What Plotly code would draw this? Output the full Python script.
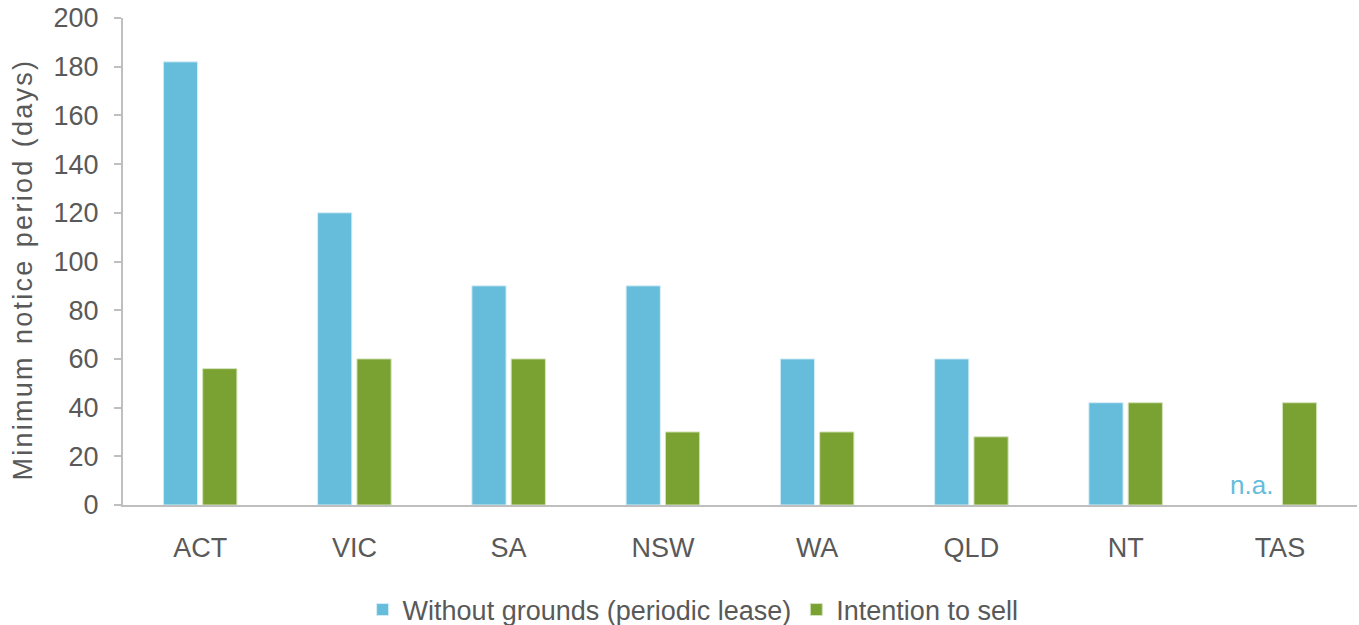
import plotly.graph_objects as go

# Minimum notice periods by state/territory (days)
states = ["ACT", "VIC", "SA", "NSW", "WA", "QLD", "NT", "TAS"]
without_grounds = [182, 120, 90, 90, 60, 60, 42, None]
intention_to_sell = [56, 60, 60, 30, 30, 28, 42, 42]
y_ticks = [0, 20, 40, 60, 80, 100, 120, 140, 160, 180, 200]

BLUE = "#65BCDB"
GREEN = "#7AA232"
TEXT = "#595959"
AXIS = "#BFBFBF"
FONT = "Liberation Sans, Arial, sans-serif"
FS = 27

fig = go.Figure()
fig.add_trace(go.Bar(
    x=states, y=without_grounds, name="Without grounds (periodic lease)",
    marker=dict(color=BLUE, line=dict(color="#D6EEF7", width=1)),
))
fig.add_trace(go.Bar(
    x=states, y=intention_to_sell, name="Intention to sell",
    marker=dict(color=GREEN, line=dict(color="#D4E3BC", width=1)),
))

# Missing value marker for TAS
fig.add_annotation(
    x="TAS", y=0, text="n.a.", showarrow=False, xshift=-28, yanchor="bottom", yshift=3,
    font=dict(family=FONT, size=FS - 1, color=BLUE),
)

# Letter-spaced y-axis title
title_text = "M i n i m u m  n o t i c e  p e r i o d  ( d a y s )"
title_text = title_text.replace("  ", "\u2002").replace(" ", "\u200a")
fig.add_annotation(
    text=title_text, textangle=-90, showarrow=False,
    xref="paper", yref="paper", x=0, y=0.5, xanchor="center", yanchor="middle",
    xshift=-101, yshift=-10,
    font=dict(family=FONT, size=FS, color=TEXT),
)

fig.update_layout(
    width=1359, height=625,
    margin=dict(l=123, r=2, t=18, b=120),
    paper_bgcolor="white", plot_bgcolor="white",
    barmode="group", bargap=0.49, bargroupgap=0.13,
    font=dict(family=FONT, size=FS, color=TEXT),
    showlegend=True,
    legend=dict(
        orientation="h", x=0.462, xanchor="center",
        yref="container", y=0.024, yanchor="middle",
        font=dict(family=FONT, size=FS, color=TEXT),
        itemwidth=30, traceorder="normal",
    ),
    xaxis=dict(
        showline=True, linecolor=AXIS, linewidth=2, ticks="",
        tickfont=dict(family=FONT, size=FS, color=TEXT),
        ticklabelstandoff=18, showgrid=False,
    ),
    yaxis=dict(
        range=[0, 200], tickvals=y_ticks, showline=True, linecolor=AXIS, linewidth=2,
        ticks="outside", ticklen=7, tickcolor=AXIS, tickwidth=2,
        showgrid=False, zeroline=False, ticklabelstandoff=10,
        tickfont=dict(family=FONT, size=FS, color=TEXT),
    ),
)

fig.write_html("out.html")
